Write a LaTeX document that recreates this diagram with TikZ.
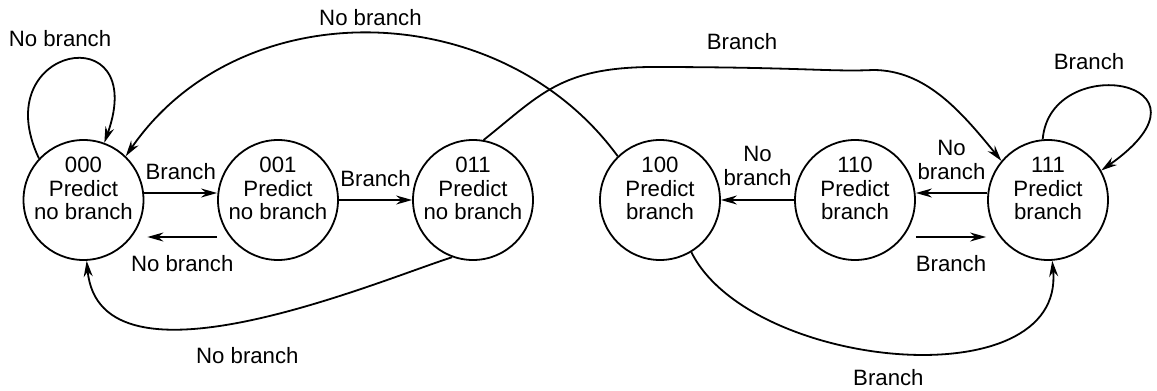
\documentclass[tikz,border=0pt]{standalone}
\usepackage{fontspec}
\setmainfont{Liberation Sans}
\usetikzlibrary{arrows.meta}
\tikzset{>={Stealth[length=8pt,width=4.5pt]},font=\fontsize{11.1}{11.75}\selectfont}
\tikzset{state/.style={circle,draw,minimum size=60pt,inner sep=0pt},
  txt/.style={align=center,yshift=5.75pt}}

\begin{document}
\begin{tikzpicture}[x=0.5pt,y=-0.5pt,line width=0.9pt]
\useasboundingbox (0,0) rectangle (1157,391);
\node[state,label={[txt]center:000\\Predict\\no branch}] (n000) at (83.5,200) {};
\node[state,label={[txt]center:001\\Predict\\no branch}] (n001) at (278,200) {};
\node[state,label={[txt]center:011\\Predict\\no branch}] (n011) at (473,200) {};
\node[state,label={[txt]center:100\\Predict\\branch}] (n100) at (660,200) {};
\node[state,label={[txt]center:110\\Predict\\branch}] (n110) at (855,200) {};
\node[state,label={[txt]center:111\\Predict\\branch}] (n111) at (1048,200) {};
\path[->] ([yshift=3.5pt]n000.east) edge node[above=3pt] {Branch} ([yshift=3.5pt]n001.west);
\path[->] ([yshift=-18.5pt]n001.west) edge node[below=5.5pt] {No branch} ([xshift=1.5pt,yshift=-18.5pt]n000.east);
\path[->] (n001) edge node[above=3pt] {Branch} (n011);
\path[->] (n110) edge node[above=3.5pt,align=center] {No\\branch} (n100);
\path[->] ([yshift=3.5pt]n111.west) edge node[above=3pt,align=center] {No\\branch} ([yshift=3.5pt]n110.east);
\path[->] ([yshift=-18.5pt]n110.east) edge node[below=5.5pt] {Branch} ([xshift=-0.5pt,yshift=-18.5pt]n111.west);
\draw[->] (n000.137) .. controls (-15,45) and (150,15) .. (n000.70) node[pos=0.45,above=4pt] {No branch};
\draw[->] (n111.95) .. controls (1050,50) and (1230,80) .. (n111.29) node[pos=0.33,above=5pt] {Branch};
\draw[->] (n100.134) .. controls (500,-5) and (240,-10) .. (n000.46) node[pos=0.5,above] {No branch};
\draw[->] (n011.250) .. controls (380,280) and (100,400) .. (n000.273) node[pos=0.5,below=10pt] {No branch};
\draw[->] (n011.80) .. controls (540,95) and (560,68) .. (650,67)
  .. controls (800,67) and (830,72) .. (873,70) node[pos=0.25,above=5pt] {Branch}
  .. controls (925,70) and (960,110) .. (n111.140);
\draw[->] (n100.301) .. controls (750,370) and (1065,400) .. (n111.274) node[pos=0.48,below=5pt] {Branch};
\end{tikzpicture}
\end{document}
